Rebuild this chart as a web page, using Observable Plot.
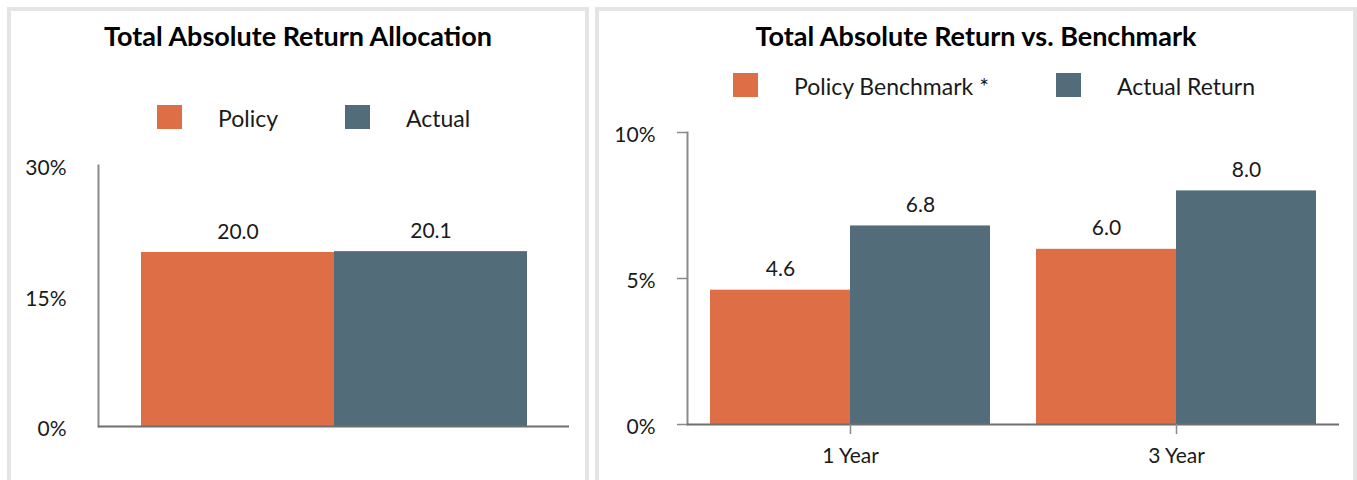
<!DOCTYPE html>
<html><head><meta charset="utf-8">
<script src="https://cdn.jsdelivr.net/npm/d3@7"></script>
<script src="https://cdn.jsdelivr.net/npm/@observablehq/plot@0.6"></script>
<style>
body{margin:0;background:#fff;font-family:Lato,"Open Sans",sans-serif;color:#1a1a1a;}
#page{position:relative;width:1357px;height:480px;overflow:hidden;background:#fff;}
.panel{position:absolute;border:4px solid #e4e4e4;box-sizing:border-box;background:#fff;}
.title{position:absolute;font-weight:bold;font-size:27px;line-height:32px;text-align:center;white-space:nowrap;color:#000;}
.sw{position:absolute;width:25px;height:24px;}
.lt{position:absolute;font-size:23px;line-height:26px;white-space:nowrap;color:#1a1a1a;}
.chart{position:absolute;}
.chart svg{font-family:Lato,"Open Sans",sans-serif;}
</style></head><body><div id="page"></div>
<script>
// ---- data ----
const allocTitle = "Total Absolute Return Allocation";
const allocSeries = ["Policy", "Actual"];
const allocValues = [20.0, 20.1];
const allocTicks = [0, 15, 30];

const returnTitle = "Total Absolute Return vs. Benchmark";
const periods = ["1 Year", "3 Year"];
const returnSeries = ["Policy Benchmark *", "Actual Return"];
const policyReturns = [4.6, 6.0];
const actualReturns = [6.8, 8.0];
const returnTicks = [0, 5, 10];

const colors = ["#de6e45", "#526c79"];

// ---- layout ----
const page = document.getElementById("page");
function el(cls, css, text) {
  const d = document.createElement("div");
  d.className = cls;
  Object.assign(d.style, css);
  if (text != null) d.textContent = text;
  page.appendChild(d);
  return d;
}
el("panel", {left: "7px", top: "7px", width: "582px", height: "500px"});
el("panel", {left: "595px", top: "7px", width: "762px", height: "500px"});
el("title", {left: "7px", top: "20px", width: "582px"}, allocTitle);
el("title", {left: "595px", top: "20px", width: "762px"}, returnTitle);

// legends
const legLeft = [{sx: 157, tx: 218}, {sx: 345, tx: 406}];
allocSeries.forEach((s, i) => {
  el("sw", {left: legLeft[i].sx + "px", top: "105px", background: colors[i]});
  el("lt", {left: legLeft[i].tx + "px", top: "105px"}, s);
});
const legRight = [{sx: 733, tx: 794}, {sx: 1056, tx: 1117}];
returnSeries.forEach((s, i) => {
  el("sw", {left: legRight[i].sx + "px", top: "73px", background: colors[i]});
  el("lt", {left: legRight[i].tx + "px", top: "73px"}, s);
});

// ---- left chart ----
const allocData = allocSeries.map((s, i) => ({series: s, value: allocValues[i]}));
const left = Plot.plot({
  width: 570, height: 330,
  marginLeft: 88, marginRight: 11, marginTop: 25, marginBottom: 44,
  style: {fontSize: "21px", color: "#1a1a1a", background: "transparent"},
  x: {domain: allocSeries, paddingInner: 0, paddingOuter: 0.22, axis: null},
  y: {domain: [0, 30]},
  color: {domain: allocSeries, range: colors},
  marks: [
    Plot.barY(allocData, {x: "series", y: "value", fill: "series"}),
    Plot.frame({anchor: "left", stroke: "#8a8a8a", strokeWidth: 2}),
    Plot.ruleY([0], {stroke: "#6e6e6e", strokeWidth: 2}),
    Plot.text(allocData, {x: "series", y: "value", text: d => d.value.toFixed(1), lineAnchor: "bottom", dy: -14, fill: "#1a1a1a"}),
    Plot.axisY({ticks: allocTicks, tickSize: 0, tickPadding: 32, tickFormat: d => d + "%", label: null, dy: 3, fill: "#1a1a1a"})
  ]
});
const lc = el("chart", {left: "10px", top: "140px"});
lc.appendChild(left);

// ---- right chart ----
const returnData = periods.flatMap((p, i) => [
  {period: p, series: returnSeries[0], value: policyReturns[i]},
  {period: p, series: returnSeries[1], value: actualReturns[i]}
]);
const right = Plot.plot({
  width: 750, height: 360,
  marginLeft: 87, marginRight: 11, marginTop: 22, marginBottom: 46,
  style: {fontSize: "21px", color: "#1a1a1a", background: "transparent"},
  fx: {domain: periods, paddingInner: 0, paddingOuter: 0},
  x: {domain: returnSeries, paddingInner: 0, paddingOuter: 0.164, axis: null},
  y: {domain: [0, 10]},
  color: {domain: returnSeries, range: colors},
  marks: [
    Plot.barY(returnData, {fx: "period", x: "series", y: "value", fill: "series"}),
    Plot.frame({anchor: "left", stroke: "#8a8a8a", strokeWidth: 2, facetAnchor: "left"}),
    Plot.ruleY([0], {stroke: "#6e6e6e", strokeWidth: 2}),
    Plot.text(returnData, {fx: "period", x: "series", y: "value", text: d => d.value.toFixed(1), lineAnchor: "bottom", dy: -14, fill: "#1a1a1a"}),
    Plot.axisY({ticks: returnTicks, tickSize: 10, label: null, stroke: "#8a8a8a", strokeWidth: 1.5, fill: "none"}),
    Plot.axisY({ticks: returnTicks, tickSize: 0, tickPadding: 32, tickFormat: d => d + "%", label: null, dy: 3, fill: "#1a1a1a"}),
    Plot.axisFx({anchor: "bottom", tickSize: 10, tickPadding: 14, label: null, stroke: "#8a8a8a", strokeWidth: 1.5, fill: "#1a1a1a"})
  ]
});
const rc = el("chart", {left: "600px", top: "110px"});
rc.appendChild(right);
</script>
</body></html>
